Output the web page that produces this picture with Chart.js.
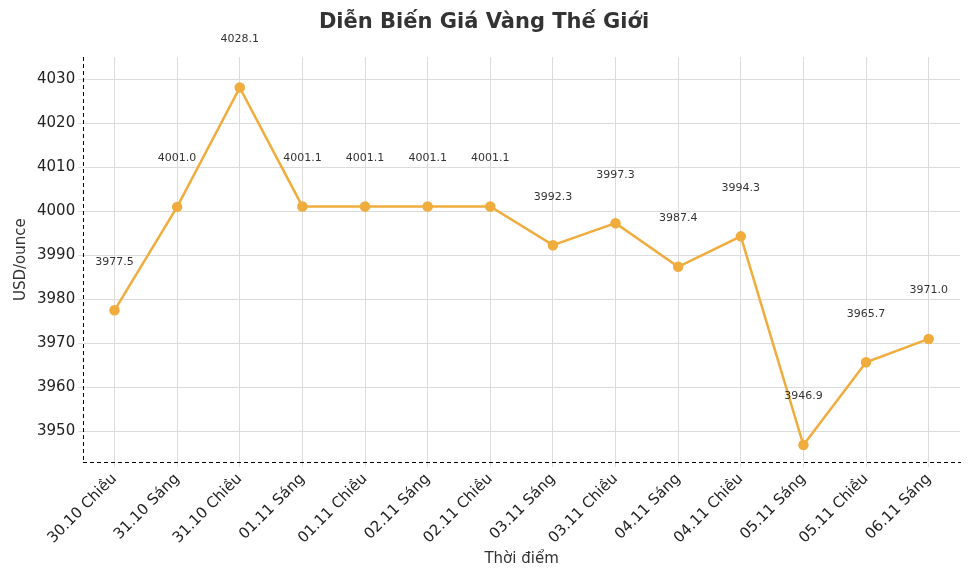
<!DOCTYPE html>
<html>
<head>
<meta charset="utf-8">
<script src="https://cdn.jsdelivr.net/npm/chart.js@4"></script>
<style>
  body { margin: 0; background: #fff; }
  #wrap { width: 970px; height: 582px; }
</style>
</head>
<body>
<div id="wrap"><canvas id="myChart"></canvas></div>
<script>
var labels = ["30.10 Chiều", "31.10 Sáng", "31.10 Chiều", "01.11 Sáng", "01.11 Chiều", "02.11 Sáng", "02.11 Chiều",
  "03.11 Sáng", "03.11 Chiều", "04.11 Sáng", "04.11 Chiều", "05.11 Sáng", "05.11 Chiều", "06.11 Sáng"];
var prices = [3977.5, 4001.0, 4028.1, 4001.1, 4001.1, 4001.1, 4001.1, 3992.3, 3997.3, 3987.4, 3994.3, 3946.9, 3965.7, 3971.0];
var yTicks = [3950, 3960, 3970, 3980, 3990, 4000, 4010, 4020, 4030];

// value labels drawn a little above each point
var valueLabels = {
  id: 'valueLabels',
  afterDatasetsDraw: function(chart) {
    var ctx = chart.ctx;
    var xs = chart.scales.x, ys = chart.scales.y;
    ctx.save();
    ctx.font = '11px "DejaVu Sans"';
    ctx.fillStyle = '#333';
    ctx.textAlign = 'center';
    ctx.textBaseline = 'middle';
    prices.forEach(function(v, i) {
      ctx.fillText(v.toFixed(1), xs.getPixelForValue(i), ys.getPixelForValue(v + 11));
    });
    ctx.restore();
  }
};

new Chart(document.getElementById('myChart'), {
  type: 'line',
  data: {
    labels: labels,
    datasets: [{
      data: prices,
      borderColor: '#f0ac3d',
      backgroundColor: '#f0ac3d',
      borderWidth: 2.5,
      pointRadius: 4,
      tension: 0
    }]
  },
  options: {
    responsive: true,
    maintainAspectRatio: false,
    animation: false,
    layout: { padding: { left: 8, right: 10, top: 4, bottom: 14 } },
    plugins: {
      legend: { display: false },
      tooltip: { enabled: false },
      title: {
        display: true,
        text: 'Diễn Biến Giá Vàng Thế Giới',
        color: '#333',
        font: { family: 'DejaVu Sans', size: 21, weight: 'bold' },
        padding: { top: 6, bottom: 22 }
      }
    },
    scales: {
      x: {
        offset: true,
        grid: { color: '#dcdcdc', tickLength: 5 },
        border: { color: '#000' },
        ticks: { color: '#222', font: { family: 'DejaVu Sans', size: 15 }, maxRotation: 45, minRotation: 45 },
        title: { display: true, text: 'Thời điểm', color: '#333', font: { family: 'DejaVu Sans', size: 15 }, padding: 0 }
      },
      y: {
        min: 3943,
        max: 4035,
        afterBuildTicks: function(axis) { axis.ticks = yTicks.map(function(v) { return { value: v }; }); },
        grid: { color: '#dcdcdc', tickLength: 5 },
        border: { color: '#000' },
        ticks: { color: '#222', font: { family: 'DejaVu Sans', size: 15 }, callback: function(v) { return String(v); } },
        title: { display: true, text: 'USD/ounce', color: '#333', font: { family: 'DejaVu Sans', size: 15 } }
      }
    }
  },
  plugins: [valueLabels, {
    id: 'dashGrid',
    beforeDraw: function(chart) {
      chart.ctx.setLineDash([4, 3]);
    },
    beforeDatasetsDraw: function(chart) {
      chart.ctx.setLineDash([]);
    }
  }]
});
</script>
</body>
</html>
